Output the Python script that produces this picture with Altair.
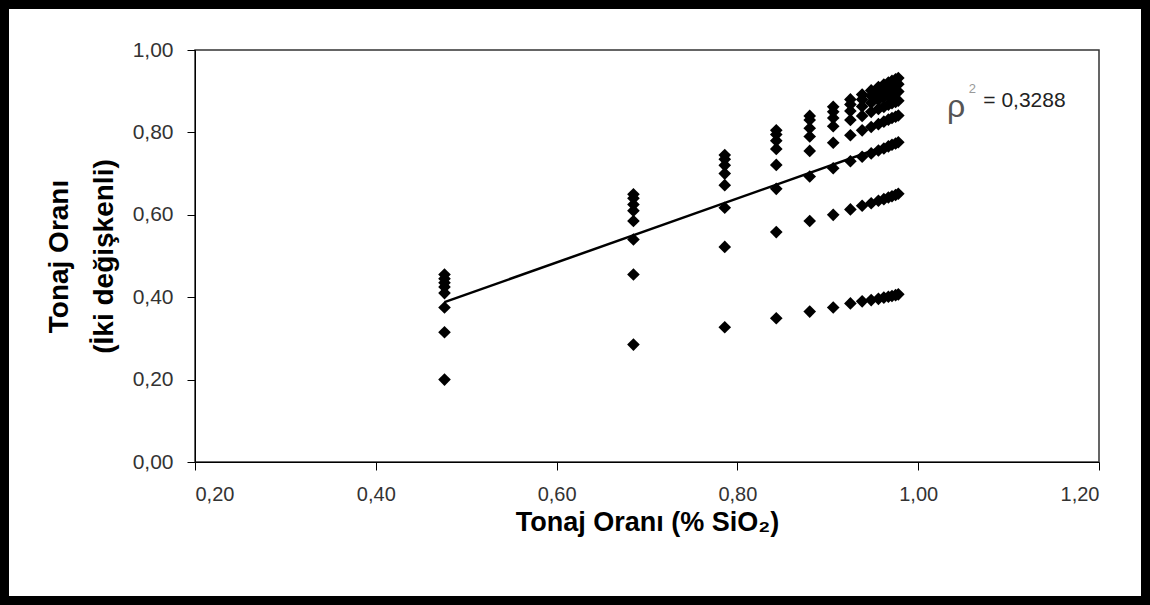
import altair as alt
import pandas as pd

# x positions of the point columns (Tonaj Oranı %SiO2)
x_cols = [0.476, 0.685, 0.786, 0.843, 0.880, 0.906, 0.925, 0.938, 0.948, 0.956, 0.962, 0.967, 0.971, 0.975, 0.978]

# y values of each series of points, one value per column
s1 = [0.200, 0.285, 0.327, 0.349, 0.365, 0.375, 0.385, 0.390, 0.393, 0.396, 0.399, 0.401, 0.403, 0.405, 0.407]
s2 = [0.315, 0.455, 0.522, 0.558, 0.585, 0.600, 0.613, 0.622, 0.628, 0.634, 0.638, 0.642, 0.645, 0.648, 0.651]
s3 = [0.375, 0.540, 0.617, 0.663, 0.693, 0.713, 0.730, 0.741, 0.749, 0.756, 0.761, 0.766, 0.770, 0.773, 0.776]
s4 = [0.410, 0.585, 0.672, 0.721, 0.755, 0.775, 0.793, 0.805, 0.813, 0.820, 0.826, 0.831, 0.835, 0.838, 0.841]
s5 = [0.425, 0.610, 0.700, 0.760, 0.790, 0.815, 0.830, 0.840, 0.850, 0.857, 0.862, 0.867, 0.871, 0.874, 0.877]
s6 = [0.435, 0.625, 0.720, 0.780, 0.810, 0.835, 0.852, 0.863, 0.872, 0.879, 0.885, 0.889, 0.893, 0.896, 0.899]
s7 = [0.445, 0.640, 0.735, 0.795, 0.830, 0.850, 0.868, 0.880, 0.889, 0.896, 0.902, 0.907, 0.911, 0.914, 0.917]
s8 = [0.455, 0.650, 0.745, 0.805, 0.840, 0.862, 0.880, 0.892, 0.902, 0.910, 0.916, 0.921, 0.925, 0.929, 0.932]

# trend line end points
line_x = [0.476, 0.978]
line_y = [0.388, 0.778]

x_ticks = [0.2, 0.4, 0.6, 0.8, 1.0, 1.2]
y_ticks = [0.0, 0.2, 0.4, 0.6, 0.8, 1.0]

rows = []
for s in [s1, s2, s3, s4, s5, s6, s7, s8]:
    for xv, yv in zip(x_cols, s):
        rows.append({"x": xv, "y": yv})
pts = pd.DataFrame(rows)
line_df = pd.DataFrame({"x": line_x, "y": line_y})

FONT = "Liberation Sans"
lab = "replace(format(datum.value, '.2f'), '.', ',')"

xscale = alt.Scale(domain=[0.2, 1.2], nice=False, zero=False)
yscale = alt.Scale(domain=[0.0, 1.0], nice=False, zero=False)

xaxis = alt.Axis(values=x_ticks, labelExpr=lab, grid=False, tickSize=8, tickColor="#000",
                 domainColor="#000", labelFont=FONT, labelFontSize=20, labelColor="#333",
                 labelPadding=14, title="Tonaj Oranı (% SiO₂)", titleFont=FONT,
                 titleFontSize=27, titleFontWeight="bold", titleColor="#000", titlePadding=5)
yaxis = alt.Axis(values=y_ticks, labelExpr=lab, grid=False, tickSize=8, tickColor="#000",
                 domainColor="#000", labelFont=FONT, labelFontSize=21, labelColor="#333",
                 labelPadding=14, title=["Tonaj Oranı", "(İki değişkenli)"], titleFont=FONT,
                 titleFontSize=28, titleFontWeight="bold", titleColor="#000", titlePadding=14,
                 titleLineHeight=45)

points = alt.Chart(pts).mark_point(shape="diamond", filled=True, color="#000", size=160, opacity=1).encode(
    x=alt.X("x:Q", scale=xscale, axis=xaxis),
    y=alt.Y("y:Q", scale=yscale, axis=yaxis),
)

trend = alt.Chart(line_df).mark_line(color="#000", strokeWidth=2.5).encode(
    x=alt.X("x:Q", scale=xscale),
    y=alt.Y("y:Q", scale=yscale),
)

ann_rho = alt.Chart(pd.DataFrame({"x": [1.042], "y": [0.862], "t": ["ρ"]})).mark_text(
    font=FONT, fontSize=32, color="#555", align="center", baseline="middle").encode(
    x=alt.X("x:Q", scale=xscale), y=alt.Y("y:Q", scale=yscale), text="t:N")
ann_sq = alt.Chart(pd.DataFrame({"x": [1.060], "y": [0.905], "t": ["2"]})).mark_text(
    font=FONT, fontSize=13, color="#999", align="center", baseline="middle").encode(
    x=alt.X("x:Q", scale=xscale), y=alt.Y("y:Q", scale=yscale), text="t:N")
ann_val = alt.Chart(pd.DataFrame({"x": [1.072], "y": [0.876], "t": ["= 0,3288"]})).mark_text(
    font=FONT, fontSize=21, color="#222", align="left", baseline="middle").encode(
    x=alt.X("x:Q", scale=xscale), y=alt.Y("y:Q", scale=yscale), text="t:N")

frame = alt.Chart(pd.DataFrame({"a": [0]})).mark_rect(
    fill=None, stroke="#000", strokeWidth=9, clip=False).encode(
    x=alt.value(-190.5), x2=alt.value(950.5), y=alt.value(-45.5), y2=alt.value(550.5))

chart = alt.layer(points, trend, ann_rho, ann_sq, ann_val, frame).properties(
    width=904, height=412,
    padding={"left": 195, "top": 50, "right": 51, "bottom": 143},
    autosize=alt.AutoSizeParams(type="none"),
    background="#ffffff",
).configure_view(stroke="#333", strokeWidth=1.5)

chart.save("out.html", embed_options={"renderer": "svg", "actions": False})
